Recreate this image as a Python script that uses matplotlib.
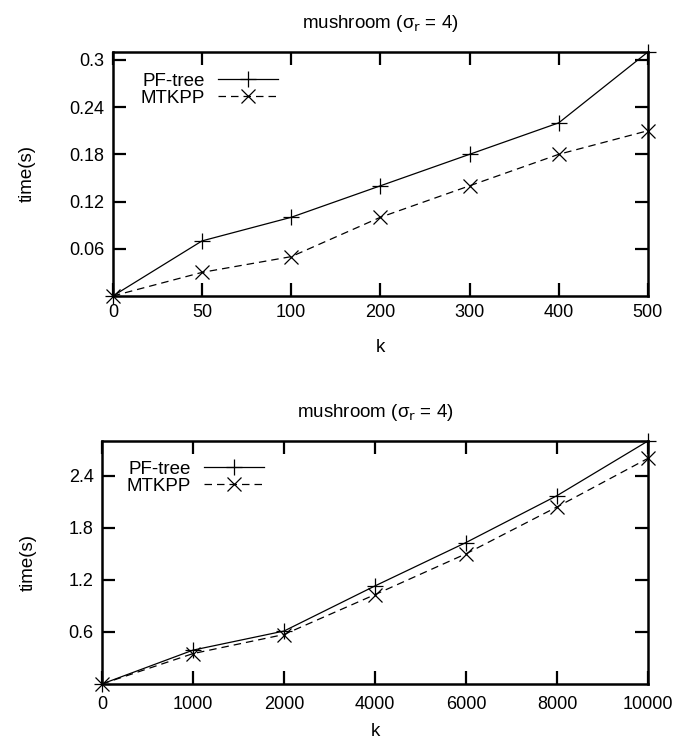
import matplotlib.pyplot as plt
from matplotlib.ticker import FixedLocator

plt.rcParams['font.family'] = ['Liberation Sans', 'DejaVu Sans']
plt.rcParams['font.size'] = 13

# top panel: small k
k_small = ['0', '50', '100', '200', '300', '400', '500']
pf_small = [0.0, 0.07, 0.10, 0.14, 0.18, 0.22, 0.31]
mt_small = [0.0, 0.03, 0.05, 0.10, 0.14, 0.18, 0.21]
yticks_small = [0.06, 0.12, 0.18, 0.24, 0.3]

# bottom panel: large k
k_large = ['0', '1000', '2000', '4000', '6000', '8000', '10000']
pf_large = [0.0, 0.39, 0.61, 1.13, 1.63, 2.17, 2.80]
mt_large = [0.0, 0.35, 0.57, 1.03, 1.50, 2.04, 2.60]
yticks_large = [0.6, 1.2, 1.8, 2.4]

title = 'mushroom (σ$_\\mathrm{r}$ = 4)'


def draw(ax, labels, pf, mt, yticks, ylab_x, leg_anchor, xpad, xlabpad):
    x = range(len(labels))
    ax.plot(x, pf, color='black', lw=0.9, marker='+', ms=11, mew=0.9,
            label='PF-tree', clip_on=False)
    ax.plot(x, mt, color='black', lw=0.9, ls=(0, (6, 4)), marker='x', ms=10,
            mew=0.9, label='MTKPP', clip_on=False)
    ax.set_xlim(0, len(labels) - 1)
    ax.set_ylim(0, max(pf))
    ax.set_xticks(list(x))
    ax.set_xticklabels(labels)
    ax.yaxis.set_major_locator(FixedLocator(yticks))
    ax.set_yticklabels(['%g' % v for v in yticks])
    ax.tick_params(direction='in', length=9.5, width=1.6, top=True, right=True,
                   labelsize=13, pad=6)
    ax.tick_params(axis='x', pad=xpad)
    for s in ax.spines.values():
        s.set_linewidth(1.8)
    ax.set_title(title, fontsize=13.5, pad=17)
    ax.set_xlabel('k', fontsize=13.5, labelpad=xlabpad)
    ax.set_ylabel('time(s)', fontsize=13.5)
    ax.yaxis.set_label_coords(ylab_x, 0.5)
    ax.legend(loc='upper left', frameon=False, markerfirst=False,
              handlelength=3.2, labelspacing=0.0, handletextpad=0.7,
              borderaxespad=0.0, bbox_to_anchor=leg_anchor, fontsize=13.5)


fig = plt.figure(figsize=(6.76, 7.42), dpi=100)
ax1 = fig.add_axes([0.167, 0.6011, 0.7914, 0.3288])
ax2 = fig.add_axes([0.1509, 0.0782, 0.8077, 0.3275])

draw(ax1, k_small, pf_small, mt_small, yticks_small, -0.144, (0.037, 0.947), 6, 13)
draw(ax2, k_large, pf_large, mt_large, yticks_large, -0.12, (0.031, 0.95), 8.5, 7)

fig.savefig('out.png', dpi=100)
